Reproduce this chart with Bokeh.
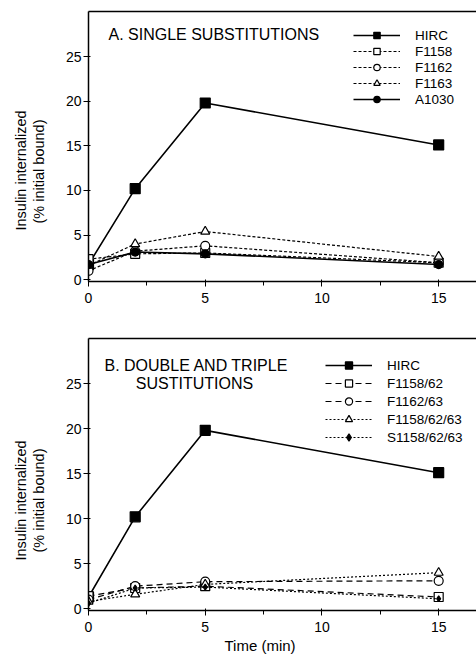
from bokeh.plotting import figure
from bokeh.models import (Legend, LegendItem, Label, FixedTicker, LinearAxis, Range1d, Title)
from bokeh.layouts import column
from bokeh.embed import file_html
from bokeh.resources import INLINE

# ---------------- data ----------------
time_min = [0, 2, 5, 15]

# Panel A: single substitutions
a_hirc = [1.7, 10.2, 19.8, 15.1]
a_f1158 = [2.3, 2.9, 3.0, 1.9]
a_f1162 = [1.0, 3.2, 3.8, 1.9]
a_f1163 = [1.6, 4.0, 5.4, 2.6]
a_a1030 = [1.7, 3.1, 2.9, 1.7]

# Panel B: double and triple substitutions
b_hirc = [1.3, 10.2, 19.8, 15.1]
b_f1158_62 = [1.4, 2.3, 2.5, 1.3]
b_f1162_63 = [1.0, 2.5, 3.0, 3.1]
b_f1158_62_63 = [0.8, 1.6, 2.7, 4.0]
b_s1158_62_63 = [0.6, 2.3, 2.4, 1.1]

x_major = [0, 5, 10, 15]
x_minor = [2.5, 7.5, 12.5]
y_major = [0, 5, 10, 15, 20, 25]

FONT = "Liberation Sans"
FW = 388


def make_panel(fh, border_top, border_bottom, y_start, y_end):
    p = figure(frame_width=FW, frame_height=fh, output_backend="svg", toolbar_location=None,
               x_range=Range1d(0, 16.62), y_range=Range1d(y_start, y_end),
               min_border_left=88, min_border_right=0, min_border_top=border_top,
               min_border_bottom=border_bottom, background_fill_color="white",
               border_fill_color="white")
    p.outline_line_color = None
    p.xgrid.visible = False
    p.ygrid.visible = False
    p.xaxis.ticker = FixedTicker(ticks=x_major, minor_ticks=x_minor)
    p.yaxis.ticker = FixedTicker(ticks=y_major)
    for ax in (p.xaxis[0], p.yaxis[0]):
        ax.axis_line_color = "black"
        ax.axis_line_width = 1.5
        ax.major_tick_line_color = "black"
        ax.major_tick_line_width = 1
        ax.major_tick_out = 5
        ax.major_tick_in = 2
        ax.minor_tick_line_color = "black"
        ax.minor_tick_out = 4
        ax.minor_tick_in = 0
        ax.major_label_text_font = FONT
        ax.major_label_text_font_size = "14px"
        ax.major_label_text_color = "black"
    p.xaxis.major_label_standoff = 6
    p.yaxis.major_label_standoff = 2
    # blank axis label used only as a spacer between tick labels and the title lines
    p.yaxis.axis_label = " "
    p.yaxis.axis_label_text_font_size = "1px"
    p.yaxis.axis_label_standoff = 11
    top = LinearAxis(ticker=FixedTicker(ticks=[]), axis_line_color="black",
                     axis_line_width=1.5, major_label_text_font_size="0px",
                     major_tick_line_color=None, minor_tick_line_color=None,
                     major_tick_out=0, major_tick_in=0, major_label_standoff=0)
    p.add_layout(top, "above")
    return p


def ylabel(p, off1, off2):
    # closer line first, then outer line
    for txt, off in (("(% initial bound)", off2), ("Insulin internalized", off1)):
        p.add_layout(Title(text=txt, align="left", offset=off, standoff=0,
                           vertical_align="middle", text_font=FONT,
                           text_font_size="14.5px", text_font_style="normal",
                           text_color="black"), "left")


def series(p, y, marker, dash, fill, size, lw=1.2):
    ln = p.line(time_min, y, line_color="black", line_width=lw, line_dash=dash)
    sc = p.scatter(time_min, y, marker=marker, size=size, line_color="black",
                   line_width=1.2, fill_color=fill)
    return [ln, sc]


FH_A = 270
FH_B = 272

# ---------------- panel A ----------------
pA = make_panel(FH_A, 11, 37, -0.2, 30.05)
rA = [
    ("HIRC", series(pA, a_hirc, "square", "solid", "black", 10, 1.6)),
    ("F1158", series(pA, a_f1158, "square", "3 2", "white", 9)),
    ("F1162", series(pA, a_f1162, "circle", "3 2", "white", 9)),
    ("F1163", series(pA, a_f1163, "triangle", "3 2", "white", 9)),
    ("A1030", series(pA, a_a1030, "circle", "solid", "black", 8, 1.6)),
]
legA = Legend(items=[LegendItem(label=n, renderers=r) for n, r in rA],
              location=(265, FH_A - 16 - 80), glyph_width=47, glyph_height=16, label_height=16,
              spacing=0, padding=0, margin=0, label_standoff=15,
              border_line_color=None, background_fill_alpha=0,
              label_text_font=FONT, label_text_font_size="13.5px", label_text_color="black")
pA.add_layout(legA, "center")
pA.add_layout(Label(x=20, y=FH_A - 23, x_units="screen", y_units="screen",
                    text="A. SINGLE SUBSTITUTIONS", text_font=FONT,
                    text_font_size="16px", text_baseline="middle", text_color="black"))
ylabel(pA, 51, 58)

# ---------------- panel B ----------------
pB = make_panel(FH_B, 20, 48, -0.2, 30.0)
rB = [
    ("HIRC", series(pB, b_hirc, "square", "solid", "black", 10, 1.6)),
    ("F1158/62", series(pB, b_f1158_62, "square", "6 4", "white", 9)),
    ("F1162/63", series(pB, b_f1162_63, "circle", "6 4", "white", 9)),
    ("F1158/62/63", series(pB, b_f1158_62_63, "triangle", "2 2", "white", 9)),
    ("S1158/62/63", series(pB, b_s1158_62_63, "diamond", "2 2", "black", 6)),
]
legB = Legend(items=[LegendItem(label=n, renderers=r) for n, r in rB],
              location=(237, FH_B - 18 - 90), glyph_width=47, glyph_height=18, label_height=18,
              spacing=0, padding=0, margin=0, label_standoff=15,
              border_line_color=None, background_fill_alpha=0,
              label_text_font=FONT, label_text_font_size="13.5px", label_text_color="black")
pB.add_layout(legB, "center")
pB.add_layout(Label(x=108, y=FH_B - 27, x_units="screen", y_units="screen",
                    text="B. DOUBLE AND TRIPLE", text_font=FONT, text_align="center",
                    text_font_size="16px", text_baseline="middle", text_color="black"))
pB.add_layout(Label(x=106, y=FH_B - 45, x_units="screen", y_units="screen",
                    text="SUSTITUTIONS", text_font=FONT, text_align="center",
                    text_font_size="16px", text_baseline="middle", text_color="black"))
ylabel(pB, 50, 58)
pB.add_layout(Title(text="Time (min)", align="left", offset=136, standoff=0,
                    vertical_align="bottom", text_font=FONT, text_font_size="15px",
                    text_font_style="normal", text_color="black"), "below")

layout = column(pA, pB, spacing=0)
open("out.html", "w").write(file_html(layout, INLINE))
